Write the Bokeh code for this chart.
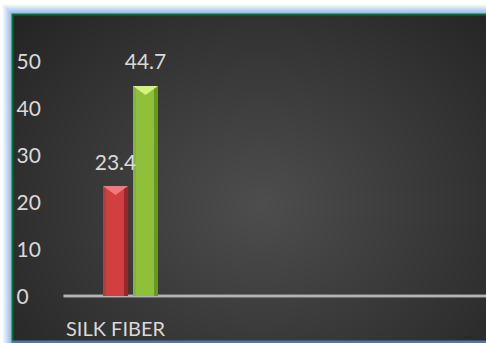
import numpy as np
from bokeh.plotting import figure
from bokeh.models import Range1d, ColumnDataSource
from bokeh.transform import dodge
from bokeh.core.properties import value
from bokeh.embed import file_html
from bokeh.resources import INLINE

# ---- data ----
categories = ["SILK FIBER"]
series_a = [23.4]   # red series
series_b = [44.7]   # green series
y_ticks = [0, 10, 20, 30, 40, 50]
y_tick_labels = ["0", "10", "20", "30", "40", "50"]

# ---- layout / scale (style) ----
W, H = 486, 343
Y0_PX = 295.5          # screen row of value 0
PXU_Y = 4.7            # pixels per unit (y)
CAT_PX = 130           # screen column of category centre
PXU_X = 100.0          # pixels per unit (x)
y_top = Y0_PX / PXU_Y
y_bot = -(H - Y0_PX) / PXU_Y
x_left = -CAT_PX / PXU_X
x_right = (W - CAT_PX) / PXU_X

p = figure(width=W, height=H, x_range=Range1d(x_left, x_right),
           y_range=Range1d(y_bot, y_top), output_backend="svg",
           toolbar_location=None, x_axis_type=None, y_axis_type=None,
           min_border=0)
p.outline_line_color = None
p.background_fill_color = "white"
p.border_fill_color = "white"

# ---- background image: glow, green frame, dark radial gradient ----
yy, xx = np.mgrid[0:H, 0:W].astype(float)
rgb = np.ones((H, W, 3)) * 255.0
cx, cy = 260.0, 205.0
r = np.hypot(xx - cx, (yy - cy) * 1.2)
t = np.clip(r / 370.0, 0, 1)
inner = np.array([78, 78, 78], float)
outer = np.array([32, 32, 32], float)
dark = inner + (outer - inner) * t[..., None]
inside = (xx >= 13) & (yy >= 15) & (yy <= 339)
rgb[inside] = dark[inside]
# green frame
green = np.array([18, 110, 30], float)
gmask = ((xx >= 11) & (xx < 13) & (yy >= 13) & (yy <= 339)) | ((yy >= 13) & (yy < 15) & (xx >= 11))
rgb[gmask] = green
# blue glow
glow = (xx < 11) | (yy < 13)
dist = np.maximum(11 - xx, 13 - yy)
tg = np.clip((dist - 1) / 9.0, 0, 1)
blue = np.array([150, 192, 232], float)
white = np.array([255, 255, 255], float)
gcol = blue + (white - blue) * tg[..., None]
rgb[glow] = gcol[glow]
# bottom blue line
bmask = (yy >= 340) & (xx >= 11)
rgb[bmask] = np.array([80, 120, 165], float)

img = np.empty((H, W), dtype=np.uint32)
view = img.view(dtype=np.uint8).reshape((H, W, 4))
view[..., :3] = np.clip(rgb, 0, 255).astype(np.uint8)
view[..., 3] = 255
img = img[::-1].copy()
p.image_rgba(image=[img], x=x_left, y=y_bot, dw=x_right - x_left, dh=y_top - y_bot)

# ---- zero line ----
p.segment(x0=[x_left + 63 / PXU_X], y0=[0], x1=[x_right], y1=[0],
          line_color="#a3a3a3", line_width=3)
p.segment(x0=[x_left + 63 / PXU_X], y0=[0], x1=[x_right], y1=[0],
          line_color="#c4c4c4", line_width=1)

# ---- bars ----
xs = [float(i) for i in range(len(categories))]
src = ColumnDataSource(dict(x=xs, a=series_a, b=series_b,
                            la=[f"{v}" for v in series_a],
                            lb=[f"{v}" for v in series_b]))
OFF = 0.15
BW = 0.25
BEV = 9 / PXU_Y

def bar(key, off, main, edge, light, bevel):
    p.vbar(x=dodge('x', off, range=p.x_range), top=key, bottom=0, width=BW,
           source=src, fill_color=main, line_color=None)
    p.vbar(x=dodge('x', off + BW / 2 - 0.02, range=p.x_range), top=key, bottom=0,
           width=0.04, source=src, fill_color=edge, line_color=None)
    p.vbar(x=dodge('x', off - BW / 2 + 0.015, range=p.x_range), top=key, bottom=0,
           width=0.03, source=src, fill_color=light, line_color=None, fill_alpha=0.6)
    vals = src.data[key]
    pxs = [[x + off - BW / 2, x + off + BW / 2, x + off] for x in xs]
    pys = [[v, v, v - BEV] for v in vals]
    p.patches(xs=pxs, ys=pys, fill_color=bevel, line_color=None)

bar('a', -OFF, "#d04040", "#98282a", "#b83434", "#f27a7a")
bar('b', OFF, "#8fc03a", "#6a9628", "#7fae32", "#d6f27e")

# ---- value labels ----
TXT = "#d9d9d9"
FONT = value("Lato")
p.text(x=dodge('x', -OFF, range=p.x_range), y='a', text='la', source=src,
       text_align="center", text_baseline="middle", y_offset=-24,
       text_font=FONT, text_font_size="21px", text_color=TXT)
p.text(x=dodge('x', OFF, range=p.x_range), y='b', text='lb', source=src,
       text_align="center", text_baseline="middle", y_offset=-24,
       text_font=FONT, text_font_size="21px", text_color=TXT)

# ---- y tick labels ----
p.text(x=[x_left + 16 / PXU_X] * len(y_ticks), y=y_ticks, text=y_tick_labels,
       text_align="left", text_baseline="middle",
       text_font=FONT, text_font_size="21px", text_color=TXT)

# ---- category label ----
p.text(x=xs, y=[0] * len(xs), text=categories, x_offset=-15, y_offset=32,
       text_align="center", text_baseline="middle",
       text_font=FONT, text_font_size="20px", text_color=TXT)

open("out.html", "w").write(file_html(p, INLINE))
